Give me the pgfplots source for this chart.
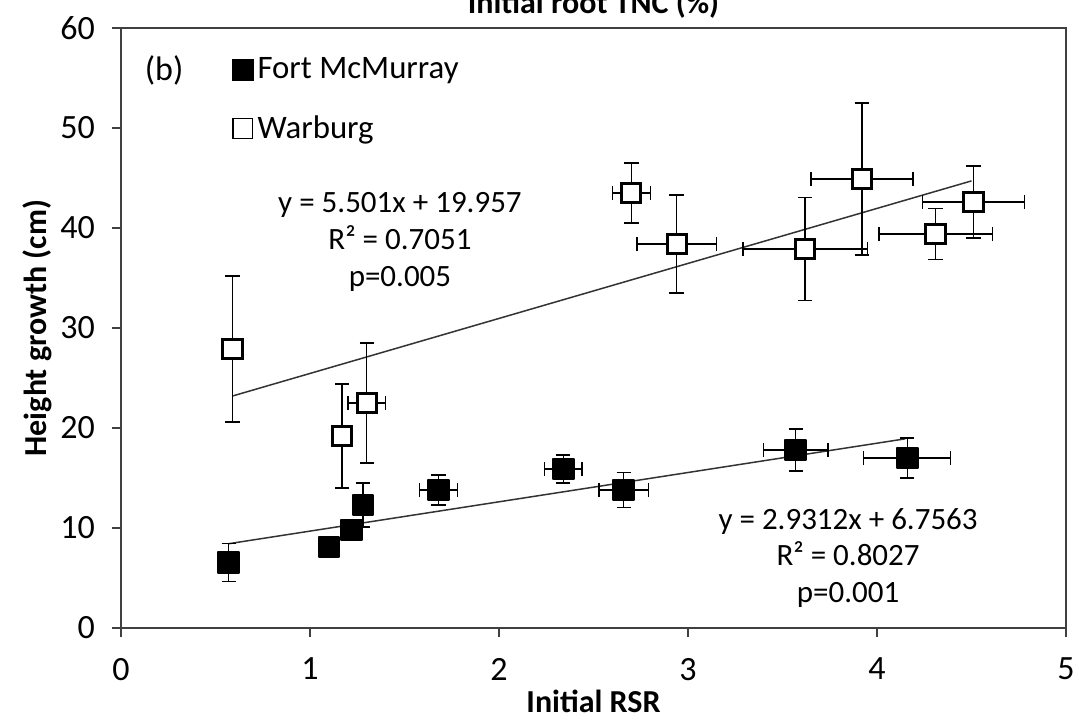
\documentclass[border=0pt]{standalone}
\usepackage{fontspec}
\setmainfont{Carlito}
\usepackage{pgfplots}
\usepackage{pgfplotstable}
\pgfplotsset{compat=1.18}
\usetikzlibrary{calc}

% x y x-err y-err
\pgfplotstableread{
x    y     ex    ey
0.57 6.55  0     1.9
1.10 8.1   0     0.8
1.22 9.8   0     0.8
1.28 12.3  0     2.2
1.68 13.8  0.10  1.5
2.34 15.9  0.10  1.4
2.66 13.8  0.13  1.75
3.57 17.8  0.17  2.1
4.16 17.0  0.23  2.0
}\fortmc

\pgfplotstableread{
x    y     ex    ey
0.59 27.9  0     7.3
1.17 19.2  0     5.2
1.30 22.5  0.10  6.0
2.70 43.5  0.10  3.0
2.94 38.4  0.21  4.9
3.62 37.9  0.33  5.15
3.92 44.9  0.27  7.6
4.31 39.4  0.30  2.55
4.51 42.6  0.27  3.6
}\warburg

\begin{document}
\begin{tikzpicture}
\begin{axis}[
    name=ax,
    scale only axis, width=472.5pt, height=300pt,
    xmin=0, xmax=5, ymin=0, ymax=60,
    xtick={0,1,...,5}, ytick={0,10,...,60},
    tick pos=left, tick align=outside, major tick length=4.5pt,
    axis line style={black!75, line width=0.8pt},
    every tick/.style={black!75, line width=0.8pt},
    tick label style={font=\fontsize{17}{20}\selectfont},
    /pgf/number format/assume math mode=true,
    xticklabel style={yshift=-7pt},
    yticklabel style={xshift=-5pt},
    xlabel={\textbf{Initial RSR}},
    ylabel={\textbf{Height growth (cm)}},
    label style={font=\fontsize{16}{19}\selectfont},
    xlabel style={at={(axis description cs:0.5,0)}, anchor=center, yshift=-36.5pt},
    ylabel style={at={(axis description cs:0,0.5)}, anchor=center, xshift=0pt, yshift=42pt},
    clip=false,
    legend style={draw=none, fill=none, at={(rel axis cs:0.117,0.958)}, anchor=north west,
        font=\fontsize{16.4}{19}\selectfont, row sep=13pt, inner sep=0pt,
        nodes={inner sep=2pt}},
    legend cell align=left,
    /tikz/every even column/.append style={column sep=3.5pt},
    errstyle/.style={only marks, mark=*, mark size=0.2pt, forget plot,
        error bars/.cd, x dir=both, x explicit, y dir=both, y explicit,
        error bar style={draw=black, line width=0.7pt, solid},
        error mark options={rotate=90, draw=black, line width=0.7pt, mark size=3.6pt}},
]
% trend lines
\addplot[black!80, line width=0.75pt, forget plot] coordinates {(0.57,8.43) (4.15,18.92)};
\addplot[black!80, line width=0.75pt, forget plot] coordinates {(0.59,23.20) (4.50,44.71)};

% error bars
\addplot[errstyle] table[x=x, y=y, x error=ex, y error=ey] {\fortmc};
\addplot[errstyle] table[x=x, y=y, x error=ex, y error=ey] {\warburg};

% markers
\addplot[only marks, mark=square*, mark size=5.2pt,
    mark options={fill=black, draw=black, line width=1pt, line join=round}, forget plot]
    table[x=x, y=y] {\fortmc};
\addplot[only marks, mark=square*, mark size=4.8pt,
    mark options={fill=white, draw=black, line width=1.5pt}, forget plot]
    table[x=x, y=y] {\warburg};

\addlegendimage{legend image code/.code={\fill[black] (0pt,-5.2pt) rectangle (10.4pt,5.2pt);}}
\addlegendentry{Fort McMurray}
\addlegendimage{legend image code/.code={\filldraw[fill=white, draw=black, line width=0.6pt] (0.3pt,-4.9pt) rectangle (10.1pt,4.9pt);}}
\addlegendentry{Warburg}

\node[font=\fontsize{17}{20}\selectfont] at (axis cs:0.228,55.8) {(b)};
\node[font=\fontsize{15.5}{18.3}\selectfont, align=center] at (axis cs:1.476,38.6)
    {y = 5.501x + 19.957\\R² = 0.7051\\p=0.005};
\node[font=\fontsize{15.5}{18.3}\selectfont, align=center] at (axis cs:3.847,7.0)
    {y = 2.9312x + 6.7563\\R² = 0.8027\\p=0.001};
\node[font=\bfseries\fontsize{16}{19}\selectfont, anchor=base] at (axis cs:2.5,61.4)
    {Initial root TNC (\%)};
\end{axis}
\pgfresetboundingbox
\path[use as bounding box] ($(ax.south west)+(-60.5pt,-45.5pt)$) rectangle ($(ax.south west)+(479pt,314pt)$);
\end{tikzpicture}
\end{document}
